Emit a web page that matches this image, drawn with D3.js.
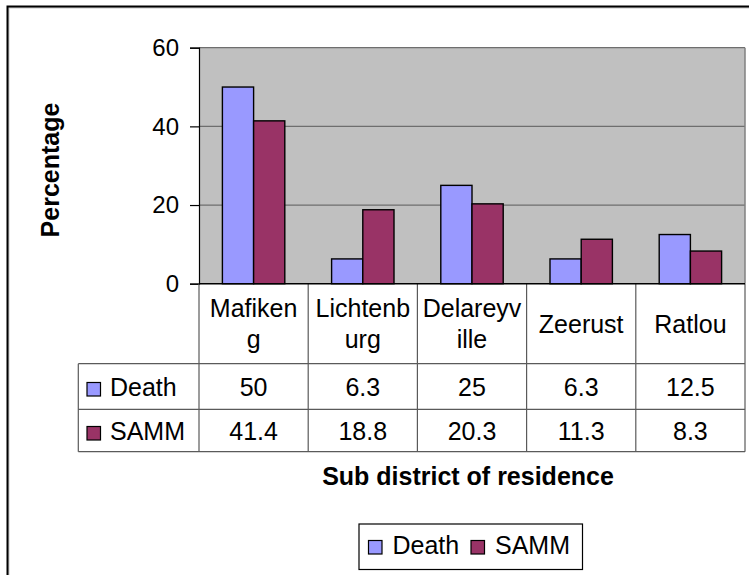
<!DOCTYPE html>
<html>
<head>
<meta charset="utf-8">
<script src="https://cdn.jsdelivr.net/npm/d3@7"></script>
<style>
  body { margin: 0; background: #fff; }
  svg text { font-family: "Liberation Sans", Arial, sans-serif; fill: #000; }
</style>
</head>
<body>
<div id="chart"></div>
<script>
const categories = ['Mafikeng', 'Lichtenburg', 'Delareyville', 'Zeerust', 'Ratlou']
// wrapped the way the category cells show them
const categoryLines = [['Mafiken', 'g'], ['Lichtenb', 'urg'], ['Delareyv', 'ille'], ['Zeerust'], ['Ratlou']]
const seriesNames = ['Death', 'SAMM']
const death = [50, 6.3, 25, 6.3, 12.5]
const samm = [41.4, 18.8, 20.3, 11.3, 8.3]
const yTicks = [0, 20, 40, 60]

const colors = { Death: '#9999FF', SAMM: '#993366' }
const width = 749
const height = 575
const plot = { left: 199, right: 745, top: 47.7, bottom: 283.7 }
const rowTop = [283.7, 363.7, 409.3, 451.7]
const tableLeft = 78.3

const svg = d3.select('#chart').append('svg')
  .attr('width', width)
  .attr('height', height)

// outer chart border (right/bottom fall outside the picture)
svg.append('rect')
  .attr('x', 8.5).attr('y', 7.5).attr('width', 760).attr('height', 600)
  .attr('fill', 'none').attr('stroke', '#c8c8c8').attr('stroke-width', 2)
svg.append('rect')
  .attr('x', 7.5).attr('y', 6.5).attr('width', 760).attr('height', 600)
  .attr('fill', 'none').attr('stroke', '#000').attr('stroke-width', 2)

const x = d3.scaleBand().domain(categories).range([plot.left, plot.right])
const xSub = d3.scaleBand().domain(seriesNames).range([0, x.bandwidth()]).paddingOuter(0.75)
const y = d3.scaleLinear().domain([0, 60]).range([plot.bottom, plot.top])

svg.append('rect')
  .attr('x', plot.left).attr('y', plot.top)
  .attr('width', plot.right - plot.left).attr('height', plot.bottom - plot.top)
  .attr('fill', '#C0C0C0')

svg.append('g').selectAll('line')
  .data(yTicks.filter(d => d > 0))
  .enter().append('line')
  .attr('x1', plot.left).attr('x2', plot.right)
  .attr('y1', d => y(d)).attr('y2', d => y(d))
  .attr('stroke', '#6e6e6e').attr('stroke-width', 1.2)

svg.append('line')
  .attr('x1', plot.right).attr('x2', plot.right)
  .attr('y1', plot.top).attr('y2', plot.bottom)
  .attr('stroke', '#808080').attr('stroke-width', 1.5)

const rows = seriesNames.map((s, i) => ({ name: s, values: i === 0 ? death : samm }))

const bars = []
rows.forEach(r => r.values.forEach((v, i) => bars.push({ series: r.name, cat: categories[i], value: v })))

svg.append('g').selectAll('rect')
  .data(bars)
  .enter().append('rect')
  .attr('x', d => x(d.cat) + xSub(d.series))
  .attr('y', d => y(d.value))
  .attr('width', xSub.bandwidth())
  .attr('height', d => y(0) - y(d.value))
  .attr('fill', d => colors[d.series])
  .attr('stroke', '#000').attr('stroke-width', 1.4)

// value axis
const yAxis = svg.append('g')
  .attr('transform', `translate(${plot.left},0)`)
  .call(d3.axisLeft(y).tickValues(yTicks).tickSize(9).tickPadding(11))
yAxis.select('.domain').attr('stroke', '#000').attr('stroke-width', 1.2)
yAxis.selectAll('.tick line').attr('stroke', '#000').attr('stroke-width', 1.2)
yAxis.selectAll('.tick text').attr('font-size', 24).attr('font-family', '"Liberation Sans", Arial, sans-serif')

svg.append('text')
  .attr('transform', `translate(59,170) rotate(-90)`)
  .attr('text-anchor', 'middle')
  .attr('font-size', 25).attr('font-weight', 'bold')
  .text('Percentage')

// data table
const grid = svg.append('g').attr('stroke', '#5a5a5a').attr('stroke-width', 1.2)
rowTop.slice(1).forEach(ry => {
  grid.append('line').attr('x1', tableLeft).attr('x2', plot.right).attr('y1', ry).attr('y2', ry)
})
grid.append('line').attr('x1', tableLeft).attr('x2', tableLeft).attr('y1', rowTop[1]).attr('y2', rowTop[3])
const cellEdges = categories.map(c => x(c)).concat([plot.right])
grid.selectAll('line.v')
  .data(cellEdges)
  .enter().append('line')
  .attr('x1', d => d).attr('x2', d => d)
  .attr('y1', rowTop[0]).attr('y2', rowTop[3])

// category axis baseline
svg.append('line')
  .attr('x1', plot.left).attr('x2', plot.right)
  .attr('y1', y(0)).attr('y2', y(0))
  .attr('stroke', '#000').attr('stroke-width', 1.4)

const catLabels = svg.append('g').selectAll('text')
  .data(categories)
  .enter().append('text')
  .attr('text-anchor', 'middle')
  .attr('font-size', 25)
catLabels.each(function (c, i) {
  const lines = categoryLines[i]
  const cx = x(c) + x.bandwidth() / 2
  const mid = (rowTop[0] + rowTop[1]) / 2
  const lh = 31.5
  const first = mid + 9 - (lines.length - 1) * lh / 2
  lines.forEach((t, k) => {
    d3.select(this).append('tspan').attr('x', cx).attr('y', first + k * lh).text(t)
  })
})

rows.forEach((r, ri) => {
  const mid = (rowTop[ri + 1] + rowTop[ri + 2]) / 2
  svg.append('rect')
    .attr('x', 87).attr('y', mid - 4).attr('width', 13.5).attr('height', 13.5)
    .attr('fill', colors[r.name]).attr('stroke', '#000').attr('stroke-width', 1.2)
  svg.append('text')
    .attr('x', 110).attr('y', mid + 9.5)
    .attr('font-size', 25)
    .text(r.name)
  svg.append('g').selectAll('text')
    .data(r.values)
    .enter().append('text')
    .attr('x', (d, i) => x(categories[i]) + x.bandwidth() / 2)
    .attr('y', mid + 9.5)
    .attr('text-anchor', 'middle')
    .attr('font-size', 25)
    .text(d => d)
})

svg.append('text')
  .attr('x', 468).attr('y', 485)
  .attr('text-anchor', 'middle')
  .attr('font-size', 25).attr('font-weight', 'bold')
  .text('Sub district of residence')

// legend
const legend = svg.append('g')
legend.append('rect')
  .attr('x', 359).attr('y', 524).attr('width', 223.5).attr('height', 45.5)
  .attr('fill', '#fff').attr('stroke', '#000').attr('stroke-width', 1.2)
const legendX = [368.5, 471]
seriesNames.forEach((s, i) => {
  legend.append('rect')
    .attr('x', legendX[i]).attr('y', 540.5).attr('width', 13.5).attr('height', 13.5)
    .attr('fill', colors[s]).attr('stroke', '#000').attr('stroke-width', 1.2)
  legend.append('text')
    .attr('x', legendX[i] + 24).attr('y', 554)
    .attr('font-size', 25)
    .text(s)
})
</script>
</body>
</html>
